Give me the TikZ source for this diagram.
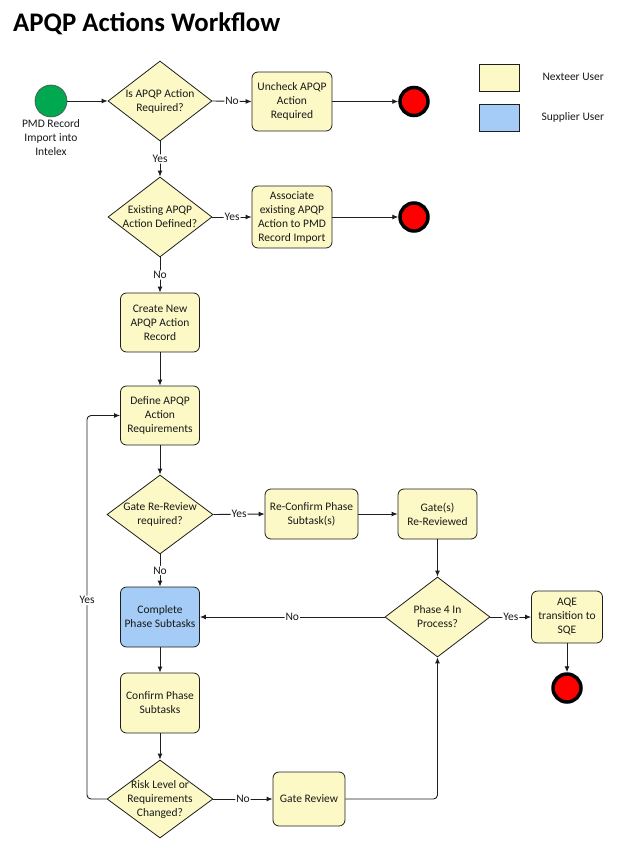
\documentclass[tikz,border=0pt]{standalone}
\usepackage{fontspec}
\setmainfont{Carlito}
\usetikzlibrary{shapes.geometric,arrows.meta}
\definecolor{ylw}{RGB}{252,249,198}
\definecolor{blu}{RGB}{164,204,246}
\definecolor{grn}{RGB}{0,168,80}
\definecolor{lin}{RGB}{30,30,30}
\tikzset{
  x=1pt, y=-1pt,
  txt/.style={font=\fontsize{11.5}{14}\selectfont, text=black!90, align=center},
  box/.style={txt, rectangle, rounded corners=6pt, draw=lin, line width=0.8pt, fill=ylw, inner sep=0pt},
  dia/.style={diamond, draw=lin, line width=0.8pt, fill=ylw, inner sep=0pt},
  dtext/.style={txt, inner sep=0pt},
  endc/.style={circle, fill=red, draw=black, line width=3.5pt, minimum size=28pt, inner sep=0pt},
  conn/.style={draw=lin, line width=0.9pt, -{Latex[length=6pt,width=5pt]}, rounded corners=4pt},
  lbl/.style={txt, fill=white, inner sep=1pt},
  leg/.style={rectangle, draw=lin, line width=0.8pt, minimum width=40pt, minimum height=27pt, inner sep=0pt}
}
\begin{document}
\begin{tikzpicture}
\useasboundingbox (0,0) rectangle (644,850);
% title
\node[anchor=base west, inner sep=0pt, font=\fontsize{26.8}{30}\selectfont\bfseries] (title) at (13,32) {APQP Actions Workflow};
% legend
\node[leg, fill=ylw] (legy) at (499,77.5) {};
\node[leg, fill=blu] (legb) at (499,117.5) {};
\node[txt, anchor=west] (legyt) at (539,77) {Nexteer User};
\node[txt, anchor=west] (legbt) at (538,117) {Supplier User};
% start
\node[circle, fill=grn, draw=black!70, line width=0.6pt, minimum size=32pt, inner sep=0pt] (start) at (51,101) {};
\node[txt, anchor=north, inner sep=0pt] (startt) at (51,119) {PMD Record\\Import into\\Intelex};
% diamonds
\node[dia, minimum width=104pt, minimum height=80pt] (d1) at (160,101) {};
\node[dtext] at (d1) {Is APQP Action\\Required?};
\node[dia, minimum width=104pt, minimum height=80pt] (d2) at (160,217) {};
\node[dtext] at (d2) {Existing APQP\\Action Defined?};
\node[dia, minimum width=106pt, minimum height=79pt] (d3) at (160,514.5) {};
\node[dtext] at (d3) {Gate Re-Review\\required?};
\node[dia, minimum width=105pt, minimum height=80pt] (d4) at (437.5,617) {};
\node[dtext] at (d4) {Phase 4 In\\Process?};
\node[dia, minimum width=106pt, minimum height=78pt] (d5) at (160,799) {};
\node[dtext] at (d5) {Risk Level or\\Requirements\\Changed?};
% boxes
\node[box, minimum width=80pt, minimum height=59pt] (b1) at (292,101.5) {Uncheck APQP\\Action\\Required};
\node[box, minimum width=80pt, minimum height=62pt] (b2) at (292,217) {Associate\\existing APQP\\Action to PMD\\Record Import};
\node[box, minimum width=79pt, minimum height=59pt] (b3) at (160,322.5) {Create New\\APQP Action\\Record};
\node[box, minimum width=79pt, minimum height=59pt] (b4) at (160,415.5) {Define APQP\\Action\\Requirements};
\node[box, minimum width=93pt, minimum height=50pt] (b5) at (311.5,514) {Re-Confirm Phase\\Subtask(s)};
\node[box, minimum width=79pt, minimum height=50pt] (b6) at (437.5,514) {Gate(s)\\Re-Reviewed};
\node[box, fill=blu, minimum width=79pt, minimum height=60pt] (b7) at (160,617) {Complete\\Phase Subtasks};
\node[box, minimum width=79pt, minimum height=60pt] (b8) at (160,703) {Confirm Phase\\Subtasks};
\node[box, minimum width=72pt, minimum height=54pt] (b9) at (309,799) {Gate Review};
\node[box, minimum width=71pt, minimum height=52pt] (b10) at (567,617) {AQE\\transition to\\SQE};
% ends
\node[endc] (e1) at (414,101.5) {};
\node[endc] (e2) at (414,217) {};
\node[endc] (e3) at (567,688) {};
% connectors
\draw[conn] (start) -- (d1.west);
\draw[conn] (d1.east) -- node[lbl] {No} (b1.west);
\draw[conn] (b1.east) -- (e1.west);
\draw[conn] (d1.south) -- node[lbl] {Yes} (d2.north);
\draw[conn] (d2.east) -- node[lbl] {Yes} (b2.west);
\draw[conn] (b2.east) -- (e2.west);
\draw[conn] (d2.south) -- node[lbl] {No} (b3.north);
\draw[conn] (b3) -- (b4);
\draw[conn] (b4) -- (d3.north);
\draw[conn] (d3.east) -- node[lbl] {Yes} (b5.west);
\draw[conn] (b5) -- (b6);
\draw[conn] (b6.south) -- (d4.north);
\draw[conn] (d3.south) -- node[lbl] {No} (b7.north);
\draw[conn] (d4.west) -- node[lbl] {No} (b7.east);
\draw[conn] (d4.east) -- node[lbl] {Yes} (b10.west);
\draw[conn] (b10.south) -- (e3.north);
\draw[conn] (b7) -- (b8);
\draw[conn] (b8) -- (d5.north);
\draw[conn] (d5.east) -- node[lbl] {No} (b9.west);
\draw[conn] (b9.east) -| (d4.south);
\coordinate (lp) at (87,799);
\draw[conn] (d5.west) -- (lp) |- node[lbl, pos=0.259] {Yes} (b4.west);
\end{tikzpicture}
\end{document}
